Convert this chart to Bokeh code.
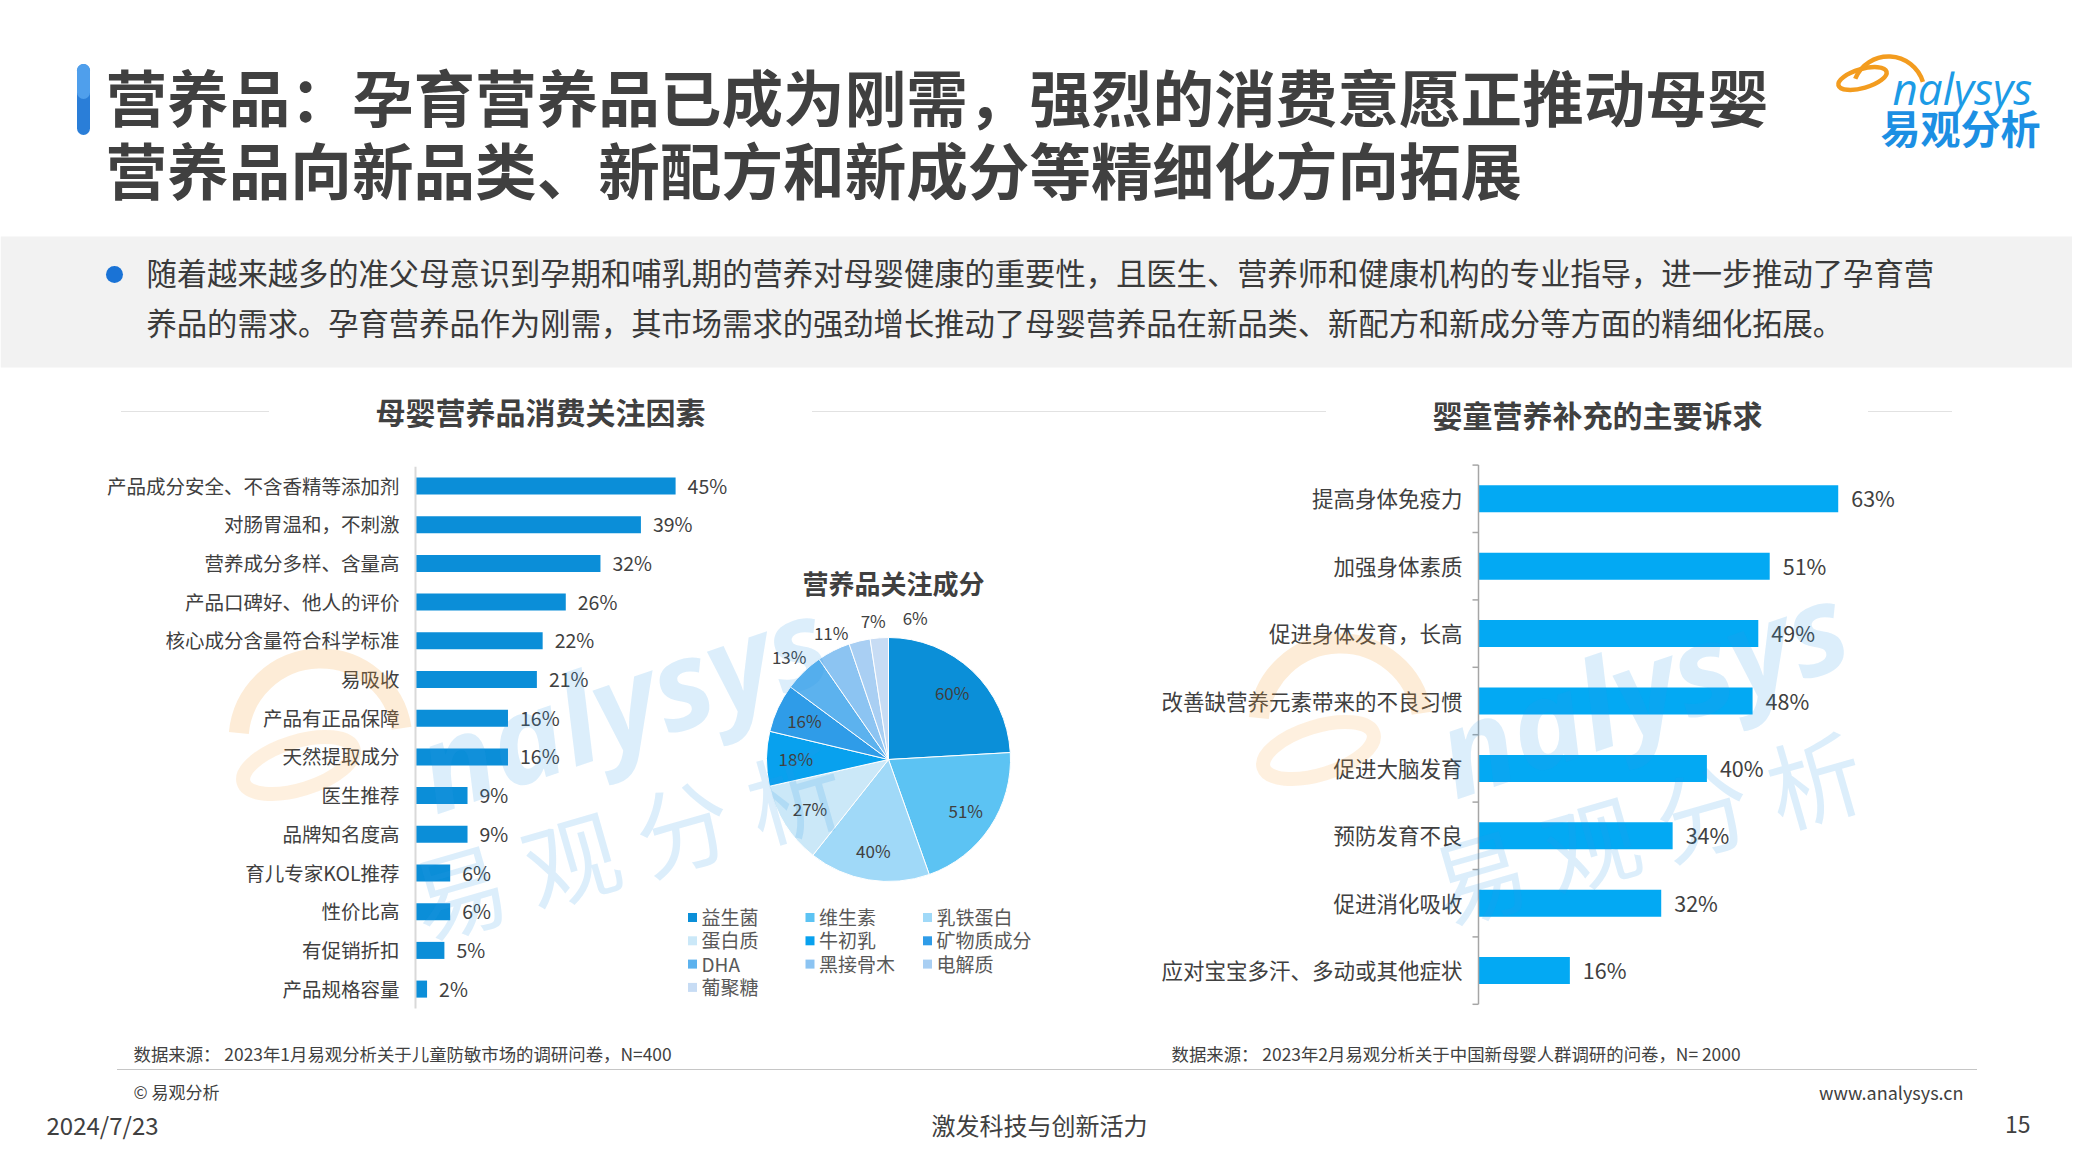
import numpy as np
from bokeh.plotting import figure
from bokeh.models import Range1d
from bokeh.core.properties import value
from bokeh.embed import file_html
from bokeh.resources import INLINE

# ---------------- data ----------------
title_lines = ["营养品：孕育营养品已成为刚需，强烈的消费意愿正推动母婴",
               "营养品向新品类、新配方和新成分等精细化方向拓展"]
body_lines = ["随着越来越多的准父母意识到孕期和哺乳期的营养对母婴健康的重要性，且医生、营养师和健康机构的专业指导，进一步推动了孕育营",
              "养品的需求。孕育营养品作为刚需，其市场需求的强劲增长推动了母婴营养品在新品类、新配方和新成分等方面的精细化拓展。"]

left_title = "母婴营养品消费关注因素"
left_cats = ["产品成分安全、不含香精等添加剂", "对肠胃温和，不刺激", "营养成分多样、含量高",
             "产品口碑好、他人的评价", "核心成分含量符合科学标准", "易吸收", "产品有正品保障",
             "天然提取成分", "医生推荐", "品牌知名度高", "育儿专家KOL推荐", "性价比高",
             "有促销折扣", "产品规格容量"]
left_vals = [45, 39, 32, 26, 22, 21, 16, 16, 9, 9, 6, 6, 5, 2]

pie_title = "营养品关注成分"
pie_cats = ["益生菌", "维生素", "乳铁蛋白", "蛋白质", "牛初乳", "矿物质成分",
            "DHA", "黑接骨木", "电解质", "葡聚糖"]
pie_vals = [60, 51, 40, 27, 18, 16, 13, 11, 7, 6]
pie_colors = ["#0b8fd8", "#5cc3f3", "#a0d9f8", "#cbe8f8", "#08a1ee", "#2f9ce8",
              "#5cb2ee", "#8cc4f2", "#a9cff3", "#c7dcf4"]

right_title = "婴童营养补充的主要诉求"
right_cats = ["提高身体免疫力", "加强身体素质", "促进身体发育，长高", "改善缺营养元素带来的不良习惯",
              "促进大脑发育", "预防发育不良", "促进消化吸收", "应对宝宝多汗、多动或其他症状"]
right_vals = [63, 51, 49, 48, 40, 34, 32, 16]

source_left = "数据来源： 2023年1月易观分析关于儿童防敏市场的调研问卷，N=400"
source_right = "数据来源： 2023年2月易观分析关于中国新母婴人群调研的问卷，N= 2000"
copyright_txt = "© 易观分析"
site_txt = "www.analysys.cn"
date_txt = "2024/7/23"
slogan_txt = "激发科技与创新活力"
page_txt = "15"

# ---------------- styles ----------------
FONT = value("Noto Sans CJK SC")
DARK = "#404040"
LEFT_BAR = "#0b8ed8"
RIGHT_BAR = "#03a9f3"
WM_BLUE = "#2f9be6"
WM_ORANGE = "#f7a235"

W, H = 2072, 1162
p = figure(width=W, height=H, x_range=Range1d(0, W), y_range=Range1d(H, 0),
           output_backend="svg", toolbar_location=None, min_border=0,
           x_axis_location=None, y_axis_location=None)
p.xgrid.visible = False
p.ygrid.visible = False
p.outline_line_color = None
p.background_fill_color = "white"
p.border_fill_color = "white"


def txt(x, y, s, size, color=DARK, align="left", baseline="middle", bold=False,
        italic=False, font=FONT, **kw):
    style = "bold" if bold else "normal"
    if italic:
        style = "bold italic" if bold else "italic"
    p.text(x=[x], y=[y], text=[s], text_font=font, text_font_size=f"{size}px",
           text_color=color, text_align=align, text_baseline=baseline,
           text_font_style=style, **kw)


# ---------------- header ----------------
p.line(x=[83, 83], y=[70, 128], line_width=13, line_color="#2a7ed8", line_cap="round")
p.line(x=[83, 83], y=[70, 92], line_width=13, line_color="#4f9fec", line_cap="round")
txt(105, 95, title_lines[0], 61.6, bold=True)
txt(105, 168, title_lines[1], 61.6, bold=True)

# logo
p.ellipse(x=[1862], y=[78], width=[50], height=[19], angle=[0.28], fill_color=None,
          line_color="#f39c1f", line_width=4.5)
p.arc(x=[1888], y=[92], radius=[36], start_angle=[0.3], end_angle=[2.75],
      line_color="#f39c1f", line_width=4.5)
txt(1892, 87, "nalysys", 44, color="#1c9be6", baseline="alphabetic", italic=True,
    font=value("Open Sans"))
txt(1960, 126, "易观分析", 40, color="#1c8fe3", align="center", bold=True)

# grey band with text
p.quad(left=[0], right=[W], top=[236], bottom=[367], fill_color="#f2f2f2", line_color=None)
p.scatter(x=[114], y=[274], size=17, marker="circle", fill_color="#1a73d6", line_color=None)
txt(146, 271, body_lines[0], 30.3, color="#3a3a3a")
txt(146, 321, body_lines[1], 30.3, color="#3a3a3a")

# section titles with dotted rules
txt(540, 410, left_title, 30, bold=True, align="center")
txt(1597, 413, right_title, 30, bold=True, align="center")
p.segment(x0=[121, 812, 1868], y0=[411, 411, 411], x1=[269, 1326, 1952], y1=[411, 411, 411],
          line_color="#c4c4c4", line_width=1, line_dash="1 1")


# ---------------- watermark ----------------
def watermark(ox, oy):
    p.arc(x=[ox], y=[oy], radius=[82], start_angle=[0.15], end_angle=[3.05],
          line_color=WM_ORANGE, line_alpha=0.2, line_width=20)
    p.ellipse(x=[ox - 22], y=[oy + 25], width=[115], height=[48], angle=[0.3],
              fill_color=None, line_color=WM_ORANGE, line_alpha=0.16, line_width=14)
    txt(ox + 100, oy + 30, "nalysys", 122, color=WM_BLUE, baseline="alphabetic",
        italic=True, bold=True, font=value("Open Sans"), angle=0.33, text_alpha=0.17)
    txt(ox + 92, oy + 160, "易 观 分 析", 95, color=WM_BLUE, baseline="alphabetic",
        angle=0.28, text_alpha=0.17)


# ---------------- left bar chart ----------------
L_AX, L_PX, L_Y0, L_DY = 415.0, 5.78, 485.5, 38.7
p.extra_x_ranges["lx"] = Range1d(-L_AX / L_PX, (W - L_AX) / L_PX)
p.extra_y_ranges["ly"] = Range1d((H - L_Y0) / L_DY, -L_Y0 / L_DY)
li = np.arange(len(left_cats))
p.hbar(y=li, left=0, right=left_vals, height=0.44, fill_color=LEFT_BAR, line_color=None,
       x_range_name="lx", y_range_name="ly")
p.segment(x0=[0], y0=[-0.5], x1=[0], y1=[len(left_cats) - 0.5], line_color="#d9d9d9",
          line_width=2, x_range_name="lx", y_range_name="ly")
p.text(x=[0] * len(left_cats), y=li, text=left_cats, x_offset=-16, y_offset=-1,
       text_align="right", text_baseline="middle", text_font=FONT, text_font_size="19.5px",
       text_color=DARK, x_range_name="lx", y_range_name="ly")
p.text(x=left_vals, y=li, text=[f"{v}%" for v in left_vals], x_offset=12, y_offset=-1,
       text_align="left", text_baseline="middle", text_font=FONT, text_font_size="19.5px",
       text_color=DARK, x_range_name="lx", y_range_name="ly")

# ---------------- pie ----------------
cx, cy, r = 888.0, 759.0, 122.0
txt(cx + 5, 582, pie_title, 26, bold=True, align="center")
pv = np.array(pie_vals, dtype=float)
fr = pv / pv.sum()
c_end = np.cumsum(fr)
c_start = c_end - fr
a_start = np.pi / 2 - 2 * np.pi * c_end
a_end = np.pi / 2 - 2 * np.pi * c_start
p.wedge(x=cx, y=cy, radius=r, start_angle=a_start, end_angle=a_end, fill_color=pie_colors,
        line_color="white", line_width=1)
mid = (a_start + a_end) / 2
inside = pv >= 15
fac = np.where(inside, 0.76, 1.17)
lab_x = cx + r * fac * np.cos(mid)
lab_y = cy - r * fac * np.sin(mid)
# simple collision avoidance for the small outside labels near the top
prev = None
for i in range(len(pv)):
    if inside[i]:
        continue
    if prev is not None and abs(lab_y[i] - lab_y[prev]) < 25 and lab_x[i] - lab_x[prev] < 42:
        lab_x[i] = lab_x[prev] + 42
    prev = i
p.text(x=lab_x, y=lab_y, text=[f"{v}%" for v in pie_vals], text_align="center",
       text_baseline="middle", text_font=FONT, text_font_size="17px", text_color=DARK)

# legend (3 columns, row-major)
LG_X0, LG_DX, LG_Y0, LG_DY = 692, 117.5, 917, 23.3
k = np.arange(len(pie_cats))
lgx = LG_X0 + LG_DX * (k % 3)
lgy = LG_Y0 + LG_DY * (k // 3)
p.scatter(x=lgx, y=lgy, marker="square", size=9, fill_color=pie_colors, line_color=None)
p.text(x=lgx + 9, y=lgy - 1, text=pie_cats, text_align="left", text_baseline="middle",
       text_font=FONT, text_font_size="19px", text_color="#595959")

# ---------------- right bar chart ----------------
R_AX, R_PX, R_Y0, R_DY = 1478.0, 5.71, 498.3, 67.4
p.extra_x_ranges["rx"] = Range1d(-R_AX / R_PX, (W - R_AX) / R_PX)
p.extra_y_ranges["ry"] = Range1d((H - R_Y0) / R_DY, -R_Y0 / R_DY)
ri = np.arange(len(right_cats))
p.hbar(y=ri, left=0, right=right_vals, height=0.4, fill_color=RIGHT_BAR, line_color=None,
       x_range_name="rx", y_range_name="ry")
bnd = np.arange(len(right_cats) + 1) - 0.5
p.segment(x0=[0], y0=[-0.5], x1=[0], y1=[len(right_cats) - 0.5], line_color="#a6a6a6",
          line_width=1.5, x_range_name="rx", y_range_name="ry")
p.segment(x0=np.full(len(bnd), -6 / R_PX), y0=bnd, x1=np.zeros(len(bnd)), y1=bnd,
          line_color="#a6a6a6", line_width=1.5, x_range_name="rx", y_range_name="ry")
p.text(x=[0] * len(right_cats), y=ri, text=right_cats, x_offset=-16, y_offset=-1,
       text_align="right", text_baseline="middle", text_font=FONT, text_font_size="21.5px",
       text_color=DARK, x_range_name="rx", y_range_name="ry")
p.text(x=right_vals, y=ri, text=[f"{v}%" for v in right_vals], x_offset=13, y_offset=-1,
       text_align="left", text_baseline="middle", text_font=FONT, text_font_size="21.5px",
       text_color=DARK, x_range_name="rx", y_range_name="ry")

# watermarks on top, very faint
watermark(320, 740)
watermark(1340, 725)

# ---------------- footer ----------------
txt(133, 1053, source_left, 17.4)
txt(1171, 1053, source_right, 17.4)
p.segment(x0=[117], y0=[1069], x1=[1977], y1=[1069], line_color="#8c8c8c", line_width=1.2,
          line_dash="1 1")
txt(133, 1091, copyright_txt, 17)
txt(1963, 1091, site_txt, 18, align="right")
txt(46, 1124, date_txt, 24)
txt(1039, 1124, slogan_txt, 24, align="center")
txt(2030, 1124, page_txt, 23, align="right")

open("out.html", "w").write(file_html(p, INLINE))
